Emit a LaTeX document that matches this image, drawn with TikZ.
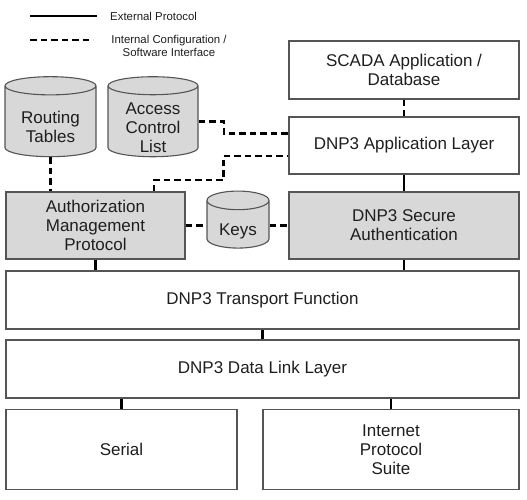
\documentclass[tikz,border=0pt]{standalone}
\usepackage{fontspec}
\setmainfont{Liberation Sans}
\usetikzlibrary{shapes.geometric}
\definecolor{boxgray}{RGB}{216,216,216}
\definecolor{edgegray}{RGB}{85,85,85}
\definecolor{txtgray}{RGB}{30,30,30}
\begin{document}
\begin{tikzpicture}[x=1pt, y=-1pt,
    layer/.style={draw=edgegray, line width=1.1pt, fill=white, text=txtgray, align=center,
        font=\fontsize{17}{19}\selectfont, inner sep=0pt},
    graylayer/.style={layer, fill=boxgray},
    store/.style={cylinder, shape border rotate=90, aspect=0.2, draw=edgegray, line width=1.1pt,
        fill=boxgray, inner sep=0pt},
    storetext/.style={text=txtgray, align=center, font=\fontsize{17}{19}\selectfont, inner sep=0pt},
    extlink/.style={line width=2.4pt},
    intlink/.style={line width=2.4pt, dash pattern=on 6.5pt off 4pt},
    legendtext/.style={text=txtgray, align=center, font=\fontsize{11.4}{12.6}\selectfont, inner sep=0pt}]
    \useasboundingbox[fill=white] (0,0) rectangle (527,499);

    \coordinate (ext0) at (30,16);
    \coordinate (ext1) at (97,16);
    \coordinate (int0) at (30,40);
    \coordinate (int1) at (93,40);
    \draw[extlink] (ext0) -- (ext1);
    \draw[intlink] (int0) -- (int1);
    \node[legendtext, anchor=west] (extlabel) at (110,16) {External Protocol};
    \node[legendtext] (intlabel) at (169,46) {Internal Configuration /\\Software Interface};

    \node[layer, minimum width=230pt, minimum height=58pt] (scada) at (404,70) {SCADA Application /\\Database};
    \node[layer, minimum width=230pt, minimum height=57pt] (app) at (404,145.5) {DNP3 Application Layer};
    \node[graylayer, minimum width=230pt, minimum height=67pt] (secure) at (404,225.5) {DNP3 Secure\\Authentication};
    \node[graylayer, minimum width=179pt, minimum height=67pt] (authmgmt) at (95.5,225.5) {Authorization\\Management\\Protocol};
    \node[layer, minimum width=513pt, minimum height=58pt] (transport) at (262.5,300) {DNP3 Transport Function};
    \node[layer, minimum width=513pt, minimum height=58pt] (datalink) at (262.5,369) {DNP3 Data Link Layer};
    \node[layer, minimum width=231pt, minimum height=80pt] (serial) at (121.5,449.5) {Serial};
    \node[layer, minimum width=256pt, minimum height=80pt] (ips) at (391,449.5) {Internet\\Protocol\\Suite};

    \node[store, minimum width=91pt, minimum height=80pt] (routing) at (50.5,121.5) {\rule{91pt}{0pt}};
    \node[store, minimum width=90pt, minimum height=80pt] (acl) at (153,121.5) {\rule{90pt}{0pt}};
    \node[store, aspect=0.3, minimum width=62pt, minimum height=57pt] (keys) at (238,224.5) {\rule{62pt}{0pt}};
    \node[storetext] (routingtext) at (50.5,126.5) {Routing\\Tables};
    \node[storetext] (acltext) at (153,127.5) {Access\\Control\\List};
    \node[storetext] (keystext) at (238,231) {Keys};

    \draw[intlink] (scada.south) -- (app.north);
    \draw[extlink] (app.south) -- (secure.north);
    \draw[extlink] (secure.south) -- (secure.south |- transport.north);
    \draw[extlink] (authmgmt.south) -- (authmgmt.south |- transport.north);
    \draw[extlink] (transport.south) -- (datalink.north);
    \draw[extlink] (serial.north) -- (serial.north |- datalink.south);
    \draw[extlink] (ips.north) -- (ips.north |- datalink.south);

    \coordinate (bend) at (223.5,180);
    \draw[intlink] (routing.south) -- (routing.south |- authmgmt.north);
    \draw[intlink] (acl.east) -- ++(25.5,0) |- ([yshift=12pt]app.west);
    \draw[intlink] ([xshift=58.5pt]authmgmt.north) |- (bend) |- ([yshift=-10.5pt]app.west);
    \draw[intlink] (authmgmt.east) -- (authmgmt.east -| keys.west);
    \draw[intlink] (keys.east |- secure.west) -- (secure.west);
\end{tikzpicture}
\end{document}
